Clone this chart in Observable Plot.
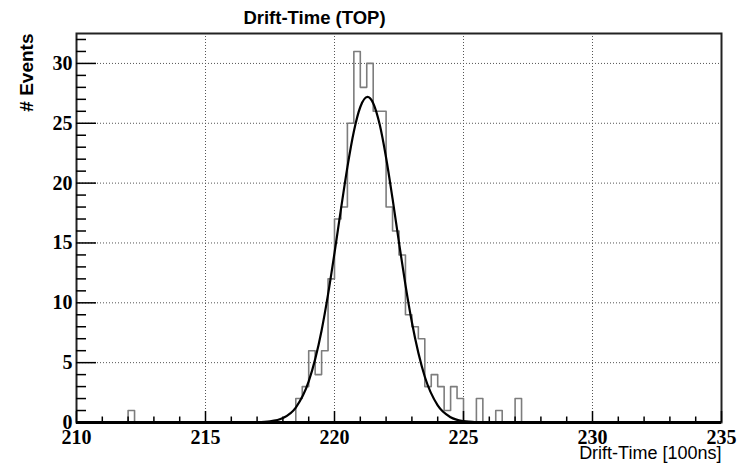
<!DOCTYPE html>
<html><head><meta charset="utf-8">
<script src="https://cdn.jsdelivr.net/npm/d3@7"></script>
<script src="https://cdn.jsdelivr.net/npm/@observablehq/plot@0.6"></script>
<style>html,body{margin:0;padding:0;background:#fff}</style>
</head><body><div id="chart"></div>
<script>
// ---- data ----
const title = "Drift-Time (TOP)";
const xLabel = "Drift-Time [100ns]";
const yLabel = "# Events";
const xDomain = [210, 235];
const yDomain = [0, 32.5];
const binWidth = 0.25;
// low edges of non-empty bins and their counts
const binLow   = [212.00, 218.50, 218.75, 219.00, 219.25, 219.50, 219.75, 220.00, 220.25, 220.50, 220.75, 221.00, 221.25, 221.50, 221.75, 222.00, 222.25, 222.50, 222.75, 223.00, 223.25, 223.50, 223.75, 224.00, 224.25, 224.50, 224.75, 225.50, 226.25, 227.00];
const binCount = [1, 2, 3, 6, 4, 6, 12, 17, 18, 25, 31, 28, 30, 26, 26, 18, 16, 14, 9, 8, 7, 3, 4, 3, 1, 3, 2, 2, 1, 2];
// fitted curve, points
const fitX = [217, 217.5, 218, 218.5, 219, 219.5, 219.75, 220, 220.25, 220.5, 220.75, 221, 221.28, 221.5, 221.75, 222, 222.25, 222.5, 222.75, 223, 223.5, 224, 224.5, 225, 225.5];
const fitY = [0.02, 0.09, 0.37, 1.25, 3.43, 7.69, 10.70, 14.16, 17.82, 21.34, 24.32, 26.36, 27.2, 26.68, 24.91, 22.12, 18.70, 15.03, 11.50, 8.37, 3.82, 1.43, 0.44, 0.11, 0.02];
// ticks
const xTicks = [210, 215, 220, 225, 230, 235];
const yTicks = [0, 5, 10, 15, 20, 25, 30];
const xMinor = [211,212,213,214,216,217,218,219,221,222,223,224,226,227,228,229,231,232,233,234];
const yMinor = [1,2,3,4,6,7,8,9,11,12,13,14,16,17,18,19,21,22,23,24,26,27,28,29,31,32];

// ---- build histogram profile table ----
const lookup = new Map(binLow.map((x, i) => [x, binCount[i]]));
const nBins = Math.round((xDomain[1] - xDomain[0]) / binWidth);
const profile = [];
for (let i = 0; i < nBins; i++) {
  const x = xDomain[0] + i * binWidth;
  profile.push({x, y: lookup.get(x) ?? 0});
}
profile.push({x: xDomain[1], y: 0});
const fit = fitX.map((x, i) => ({x, y: fitY[i]}));

const W = 742, H = 465;
const mL = 76, mR = 21, mT = 33, mB = 43;
const iW = W - mL - mR, iH = H - mT - mB;

const serif = {fontFamily: "Liberation Serif, Times New Roman, serif", fontWeight: "bold", fontSize: 20, fill: "#000"};
const sans = {fontFamily: "Liberation Sans, Arial, Helvetica, sans-serif", fill: "#000"};

const chart = Plot.plot({
  width: W, height: H,
  marginLeft: mL, marginRight: mR, marginTop: mT, marginBottom: mB,
  x: {domain: xDomain, axis: null},
  y: {domain: yDomain, axis: null},
  style: {background: "#fff", overflow: "visible"},
  marks: [
    Plot.ruleX(xTicks.slice(1, -1), {stroke: "#555", strokeWidth: 1, strokeDasharray: "1,2"}),
    Plot.ruleY(yTicks.slice(1), {stroke: "#555", strokeWidth: 1, strokeDasharray: "1,2"}),
    Plot.line(profile, {x: "x", y: "y", curve: "step-after", stroke: "#7d7d7d", strokeWidth: 1.6}),
    Plot.line(fit, {x: "x", y: "y", curve: "monotone-x", stroke: "#000", strokeWidth: 2.2}),
    Plot.frame({stroke: "#222", strokeWidth: 2}),
    Plot.ruleY([0], {stroke: "#000", strokeWidth: 3}),
    Plot.ruleX(xMinor, {insetTop: iH - 5.5, stroke: "#000", strokeWidth: 1.5}),
    Plot.ruleX(xTicks, {insetTop: iH - 11, stroke: "#000", strokeWidth: 1.5}),
    Plot.ruleY(yMinor, {insetRight: iW - 10, stroke: "#000", strokeWidth: 1.5}),
    Plot.ruleY(yTicks, {insetRight: iW - 20, stroke: "#000", strokeWidth: 1.5}),
    Plot.text(xTicks, {x: d => d, text: d => String(d), frameAnchor: "bottom", dy: 15.5, textAnchor: "middle", lineAnchor: "middle", ...serif}),
    Plot.text(yTicks, {y: d => d, text: d => String(d), frameAnchor: "left", dx: -4, textAnchor: "end", lineAnchor: "middle", ...serif}),
    Plot.text([title], {text: d => d, frameAnchor: "top-left", dx: 238, dy: -15, textAnchor: "middle", lineAnchor: "middle", fontSize: 18.5, fontWeight: "bold", ...sans}),
    Plot.text([xLabel], {text: d => d, frameAnchor: "bottom-right", dx: 0, dy: 30.5, textAnchor: "end", lineAnchor: "middle", fontSize: 18, ...sans}),
    Plot.text([yLabel], {text: d => d, frameAnchor: "top-left", dx: -50, dy: 0, rotate: -90, textAnchor: "end", lineAnchor: "middle", fontSize: 19, fontWeight: "bold", ...sans})
  ]
});
document.getElementById("chart").appendChild(chart);
</script>
</body></html>
